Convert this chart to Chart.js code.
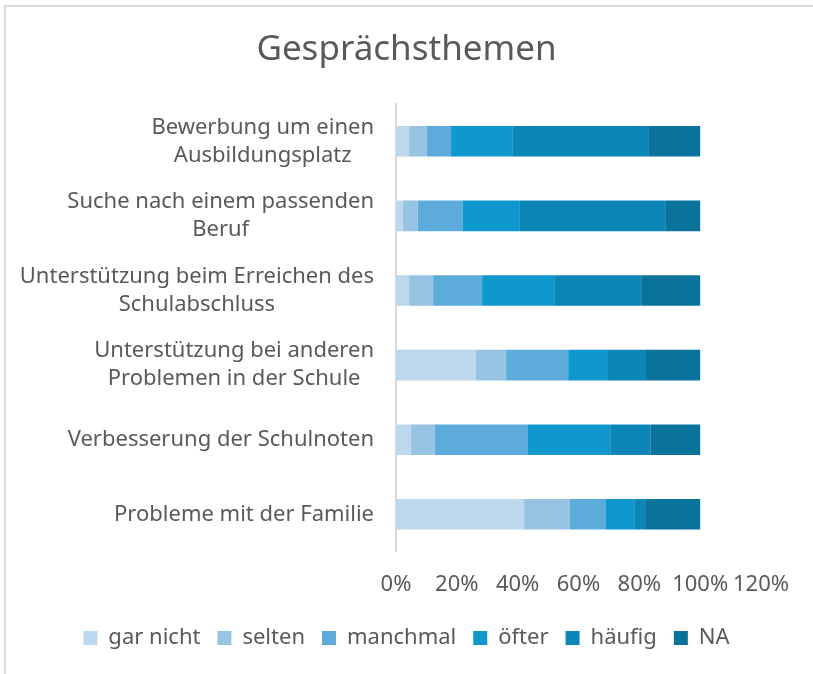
<!DOCTYPE html>
<html>
<head>
<meta charset="utf-8">
<script src="https://cdn.jsdelivr.net/npm/chart.js@4"></script>
<style>
    html, body { margin: 0; padding: 0; background: #fff; overflow: hidden; }
    #frame {
        position: absolute; left: 4px; top: 5px;
        width: 809px; height: 669px;
        border-left: 2px solid #d9d9d9;
        border-top: 2px solid #d9d9d9;
    }
    #wrap { position: absolute; left: 0; top: 0; width: 813px; height: 674px; }
</style>
</head>
<body>
<div id="frame"></div>
<div id="wrap"><canvas id="topicsChart"></canvas></div>
<script>

const categories = [
    ["Bewerbung um einen", "Ausbildungsplatz"],
    ["Suche nach einem passenden", "Beruf"],
    ["Unterstützung beim Erreichen des", "Schulabschluss"],
    ["Unterstützung bei anderen", "Problemen in der Schule"],
    ["Verbesserung der Schulnoten"],
    ["Probleme mit der Familie"]
];

const seriesNames = ["gar nicht", "selten", "manchmal", "öfter", "häufig", "NA"];

const garNicht = [4.3, 2.3, 4.3, 26.3, 4.9, 42.1];
const selten   = [5.9, 4.9, 7.9, 9.9, 7.9, 15.1];
const manchmal = [7.9, 14.8, 16.1, 20.4, 30.6, 11.6];
const oefter   = [20.1, 18.5, 23.7, 13.1, 27.0, 9.5];
const haeufig  = [44.7, 48.0, 28.6, 12.5, 13.2, 3.6];
const na       = [17.1, 11.5, 19.4, 17.8, 16.4, 18.1];

const xTicks = [0, 20, 40, 60, 80, 100, 120];

const colors = ['#bdd7ec', '#98c4e4', '#5cabda', '#0f98cd', '#0c85b7', '#0a739c'];

const textColor = '#595959';
const fontFamily = "'Noto Sans', sans-serif";
const labelSize = 22;

// category labels: lines centred on each other, block right-aligned to the axis
const centeredLabels = {
    id: 'centeredLabels',
    afterDraw(chart) {
        const scale = chart.scales.y;
        const ctx = chart.ctx;
        const lineHeight = 28;
        ctx.save();
        ctx.font = labelSize + "px " + fontFamily;
        ctx.fillStyle = textColor;
        ctx.textAlign = 'center';
        ctx.textBaseline = 'middle';
        categories.forEach((lines, i) => {
            const y = scale.getPixelForTick(i);
            const widest = Math.max(...lines.map(l => ctx.measureText(l).width));
            const cx = scale.right - 22 - widest / 2;
            const top = y - (lines.length - 1) * lineHeight / 2;
            lines.forEach((l, j) => ctx.fillText(l, cx, top + j * lineHeight));
        });
        ctx.restore();
    }
};

const dataSeries = [garNicht, selten, manchmal, oefter, haeufig, na];

new Chart(document.getElementById("topicsChart"), {
    type: 'bar',
    data: {
        labels: categories,
        datasets: seriesNames.map((name, i) => ({
            label: name,
            data: dataSeries[i],
            backgroundColor: colors[i],
            borderWidth: 0,
            barPercentage: 0.41,
            categoryPercentage: 1
        }))
    },
    options: {
        indexAxis: 'y',
        responsive: true,
        maintainAspectRatio: false,
        animation: false,
        layout: {
            padding: { left: 0, right: 0, top: 0, bottom: 15 }
        },
        plugins: {
            title: {
                display: true,
                text: 'Gesprächsthemen',
                color: textColor,
                font: { family: fontFamily, size: 35, weight: 'normal' },
                padding: { top: 29, bottom: 33 }
            },
            legend: {
                position: 'bottom',
                labels: {
                    color: textColor,
                    font: { family: fontFamily, size: labelSize },
                    boxWidth: 14,
                    boxHeight: 14,
                    padding: 17
                }
            },
            tooltip: { enabled: false }
        },
        scales: {
            x: {
                stacked: true,
                min: 0,
                max: 120,
                afterBuildTicks: (axis) => {
                    axis.ticks = xTicks.map(v => ({ value: v }));
                },
                afterFit: (axis) => {
                    axis.paddingLeft = 0;
                    axis.paddingRight = 52;
                },
                ticks: {
                    color: textColor,
                    font: { family: fontFamily, size: labelSize },
                    padding: 12,
                    maxRotation: 0,
                    minRotation: 0,
                    autoSkip: false,
                    callback: (v) => v + '%'
                },
                grid: { display: false },
                border: { display: false }
            },
            y: {
                stacked: true,
                afterFit: (axis) => {
                    axis.width = 396;
                },
                ticks: {
                    color: 'rgba(0,0,0,0)',
                    font: { family: fontFamily, size: labelSize },
                    padding: 22
                },
                grid: { display: false },
                border: { display: true, color: '#d9d9d9', width: 2 }
            }
        }
    },
    plugins: [centeredLabels]
});
</script>
</body>
</html>
